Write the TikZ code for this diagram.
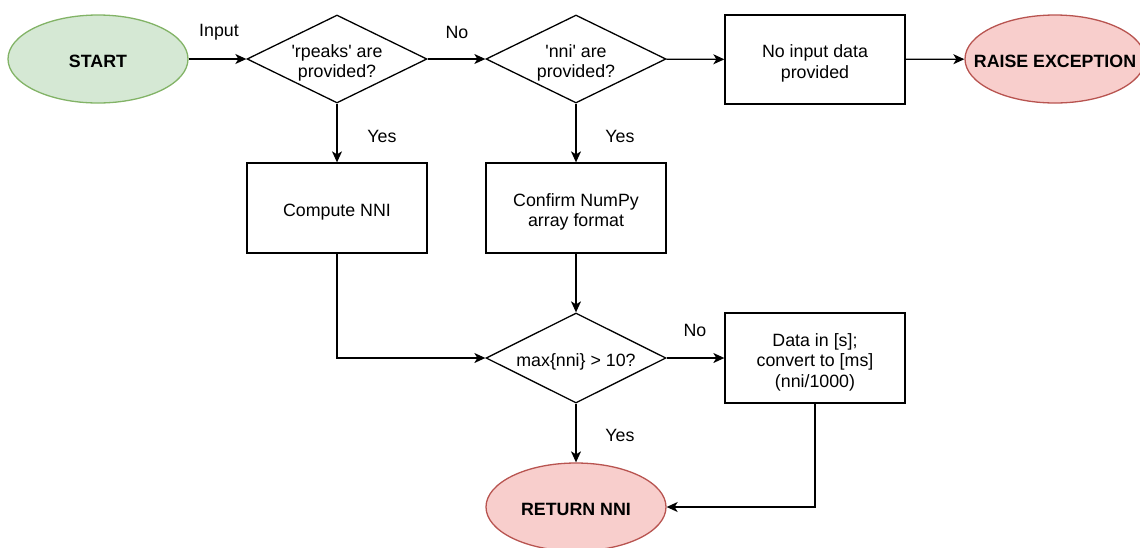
\documentclass[tikz,border=0pt]{standalone}
\usepackage{fontspec}
\setmainfont{Liberation Sans}
\usetikzlibrary{shapes.geometric,arrows.meta}
\definecolor{okfill}{HTML}{D5E8D4}
\definecolor{okline}{HTML}{82B366}
\definecolor{endfill}{HTML}{F8CECC}
\definecolor{endline}{HTML}{B85450}
% centred lines of node text, set a little below the shape's centre
\newcommand{\nodetext}[1]{\raisebox{-4.5pt}[\height][\depth]{\begin{tabular}{@{}c@{}}#1\end{tabular}}}
\begin{document}
\begin{tikzpicture}[x=1pt,y=-1pt,
  font=\fontsize{17.8}{20.5}\selectfont,
  proc/.style={draw, line width=1.3pt, minimum width=180pt, minimum height=90pt, inner sep=0pt},
  decide/.style={draw, diamond, aspect=2, line width=1.3pt, minimum width=180pt, minimum height=88pt, inner sep=0pt},
  terminal/.style={ellipse, line width=1.3pt, minimum width=180pt, minimum height=88pt, inner sep=0pt, font=\fontsize{17.8}{20.5}\selectfont\bfseries},
  okterm/.style={terminal, draw=okline, fill=okfill},
  endterm/.style={terminal, draw=endline, fill=endfill},
  flow/.style={-{Stealth[length=11pt,width=10pt,inset=3pt]}, line width=1.3pt},
  lbl/.style={inner sep=0pt}]
\useasboundingbox (0,0) rectangle (1140,547);

% top row
\node[okterm] (start) at (98,59) {\nodetext{START}};
\node[decide] (d1) at (337,59) {\nodetext{\textquotesingle rpeaks\textquotesingle{} are\\provided?}};
\node[decide] (d2) at (576,59) {\nodetext{\textquotesingle nni\textquotesingle{} are\\provided?}};
\node[proc, minimum height=89pt] (noinput) at (815,59.5) {\nodetext{No input data\\provided}};
\node[endterm] (raise) at (1055,59) {\nodetext{\makebox[0pt]{RAISE EXCEPTION}}};

% middle row
\node[proc] (compute) at (337,208) {\nodetext{Compute NNI}};
\node[proc] (confirm) at (576,208) {\nodetext{Confirm NumPy\\array format}};

% unit check
\node[decide, minimum height=90pt] (d3) at (576,358) {\nodetext{max\{nni\} > 10?}};
\node[proc] (convert) at (815,358) {\nodetext{Data in [s];\\convert to [ms]\\(nni/1000)}};

% result
\node[endterm] (ret) at (576,507) {\nodetext{RETURN NNI}};

% connectors
\draw[flow] (start) -- (d1);
\draw[flow] (d1) -- (d2);
\draw[flow] (d2) -- (noinput);
\draw[flow] (noinput) -- (raise);
\draw[flow] (d1) -- (compute);
\draw[flow] (d2) -- (confirm);
\draw[flow] (compute.south) |- (d3.west);
\draw[flow] (confirm) -- (d3);
\draw[flow] (d3) -- (convert);
\draw[flow] (d3) -- (ret);
\draw[flow] (convert.south) |- (ret.east);

% branch labels
\node[lbl] (lin) at (219,32) {Input};
\node[lbl] (lno1) at (457,32) {No};
\node[lbl] (lyes1) at (382,136) {Yes};
\node[lbl] (lyes2) at (620,136) {Yes};
\node[lbl] (lno2) at (695,330) {No};
\node[lbl] (lyes3) at (620,435) {Yes};
\end{tikzpicture}
\end{document}
